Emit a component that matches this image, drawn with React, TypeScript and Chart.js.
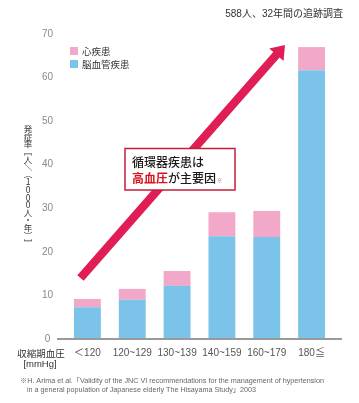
import React, { useEffect, useRef } from "react";
import { Chart, registerables } from "chart.js";

Chart.register(...registerables);

const categories = ["＜120", "120~129", "130~139", "140~159", "160~179", "180≦"];
const cerebroValues = [7.3, 9.0, 12.2, 23.6, 23.4, 61.7];
const heartValues = [1.9, 2.5, 3.4, 5.5, 6.0, 5.3];
const seriesNames = ["脳血管疾患", "心疾患"];
const yTicks = [0, 10, 20, 30, 40, 50, 60, 70];

const BLUE = "#7cc3ea";
const PINK = "#f2a9c9";
const ARROW = "#e01e55";
const FONT = '"Liberation Sans", Arial, "Noto Sans CJK JP", sans-serif';
const JP = '"Noto Sans CJK JP", "Liberation Sans", sans-serif';

const decor = {
  id: "decor",
  afterDatasetsDraw(chart: any) {
    const ctx = chart.ctx;
    const x = chart.scales.x;
    const y = chart.scales.y;
    const y0 = y.getPixelForValue(0);
    ctx.save();

    // baseline
    ctx.strokeStyle = "#9a9a9a";
    ctx.lineWidth = 2;
    ctx.beginPath();
    ctx.moveTo(57, y0);
    ctx.lineTo(342, y0);
    ctx.stroke();

    // arrow
    const tx = 80.5, ty = 278, hx = 285, hy = 45;
    const dx = hx - tx, dy = hy - ty;
    const L = Math.hypot(dx, dy);
    const ux = dx / L, uy = dy / L;
    const nx = -uy, ny = ux;
    const sw = 4.2, hl = 13, hw = 9.5;
    const bx = hx - ux * hl, by = hy - uy * hl;
    ctx.fillStyle = ARROW;
    ctx.beginPath();
    ctx.moveTo(tx + nx * sw, ty + ny * sw);
    ctx.lineTo(bx + nx * sw, by + ny * sw);
    ctx.lineTo(bx + nx * hw, by + ny * hw);
    ctx.lineTo(hx, hy);
    ctx.lineTo(bx - nx * hw, by - ny * hw);
    ctx.lineTo(bx - nx * sw, by - ny * sw);
    ctx.lineTo(tx - nx * sw, ty - ny * sw);
    ctx.closePath();
    ctx.fill();

    // callout box
    ctx.fillStyle = "#ffffff";
    ctx.fillRect(125, 148.5, 110, 41.5);
    ctx.strokeStyle = "#c41e3a";
    ctx.lineWidth = 1.5;
    ctx.strokeRect(125, 148.5, 110, 41.5);
    ctx.textBaseline = "alphabetic";
    ctx.textAlign = "left";
    ctx.font = `500 12px ${JP}`;
    ctx.fillStyle = "#1a1a1a";
    ctx.fillText("循環器疾患は", 132, 167);
    ctx.font = `bold 12px ${JP}`;
    ctx.fillStyle = "#d7141e";
    ctx.fillText("高血圧", 132, 183);
    const w1 = ctx.measureText("高血圧").width;
    ctx.font = `500 12px ${JP}`;
    ctx.fillStyle = "#1a1a1a";
    ctx.fillText("が主要因", 132 + w1, 183);
    const w2 = ctx.measureText("が主要因").width;
    ctx.font = `5px ${JP}`;
    ctx.fillStyle = "#c05070";
    ctx.fillText("※", 133 + w1 + w2, 182);

    // legend
    const legendItems = [
      { c: PINK, t: seriesNames[1], yy: 51 },
      { c: BLUE, t: seriesNames[0], yy: 64 },
    ];
    ctx.font = `9.5px ${JP}`;
    ctx.textBaseline = "middle";
    for (const it of legendItems) {
      ctx.fillStyle = it.c;
      ctx.fillRect(70, it.yy - 4, 8, 8);
      ctx.fillStyle = "#333";
      ctx.fillText(it.t, 82, it.yy + 0.5);
    }

    // top note
    ctx.font = `10px ${FONT}`;
    ctx.fillStyle = "#333";
    ctx.textAlign = "right";
    ctx.fillText("588人、32年間の追跡調査", 343, 14);

    // vertical y-axis title
    const glyphs = ["発", "症", "率", "［", "人", "／", "（", "1", "0", "0", "0", "人", "・", "年", "）", "］"];
    const rotated = new Set(["［", "／", "（", "）", "］"]);
    ctx.font = `8.5px ${JP}`;
    ctx.fillStyle = "#333";
    ctx.textAlign = "center";
    ctx.textBaseline = "middle";
    const cx = 28;
    const step = (247 - 125 - 8) / (glyphs.length - 1);
    glyphs.forEach((g, i) => {
      const cy = 129 + i * step;
      if (rotated.has(g)) {
        ctx.save();
        ctx.translate(cx, cy);
        ctx.rotate(Math.PI / 2);
        ctx.fillText(g, 0, 0);
        ctx.restore();
      } else {
        ctx.fillText(g, cx, cy);
      }
    });

    // x-axis title
    ctx.font = `9.5px ${JP}`;
    ctx.fillStyle = "#333";
    ctx.textAlign = "center";
    ctx.fillText("収縮期血圧", 41, 353);
    ctx.font = `9.5px ${FONT}`;
    ctx.fillText("[mmHg]", 40, 364);

    // footnote
    ctx.font = `7.2px ${FONT}`;
    ctx.fillStyle = "#666";
    ctx.textAlign = "left";
    ctx.fillText("※H. Arima et al.「Validity of the JNC VI recommendations for the management of hypertension", 20, 381, 322);
    ctx.fillText("in a general population of Japanese elderly The Hisayama Study」2003", 27, 390, 244);
    ctx.restore();
  },
};

export default function App() {
  const ref = useRef<HTMLCanvasElement | null>(null);
  useEffect(() => {
    document.body.style.margin = "0";
    const chart = new Chart(ref.current as HTMLCanvasElement, {
      type: "bar",
      data: {
        labels: categories,
        datasets: [
          {
            label: seriesNames[0],
            data: cerebroValues,
            backgroundColor: BLUE,
            borderWidth: 0,
            categoryPercentage: 1,
            barPercentage: 0.6,
          },
          {
            label: seriesNames[1],
            data: heartValues,
            backgroundColor: PINK,
            borderWidth: 0,
            categoryPercentage: 1,
            barPercentage: 0.6,
          },
        ],
      },
      options: {
        responsive: false,
        animation: false,
        devicePixelRatio: 1,
        layout: { padding: { left: 0, top: 34, right: 25, bottom: 0 } },
        plugins: { legend: { display: false }, tooltip: { enabled: false }, title: { display: false } },
        scales: {
          x: {
            stacked: true,
            grid: { display: false, drawTicks: false },
            border: { display: false },
            ticks: { color: "#555", font: { size: 10, family: FONT }, padding: 8, maxRotation: 0, autoSkip: false },
            afterFit: (s: any) => { s.height = 64; },
          },
          y: {
            stacked: true,
            min: 0,
            max: 70,
            grid: { display: false, drawTicks: false },
            border: { display: false },
            afterBuildTicks: (s: any) => { s.ticks = yTicks.map((v) => ({ value: v })); },
            ticks: { color: "#888", font: { size: 10, family: FONT }, padding: 12, crossAlign: "center" },
            afterFit: (s: any) => { s.width = 65; },
          },
        },
      },
      plugins: [decor],
    });
    return () => chart.destroy();
  }, []);
  return (
    <div style={{ position: "fixed", left: 0, top: 0, width: 359, height: 403, background: "#fff" }}>
      <canvas ref={ref} width={359} height={403} />
    </div>
  );
}
